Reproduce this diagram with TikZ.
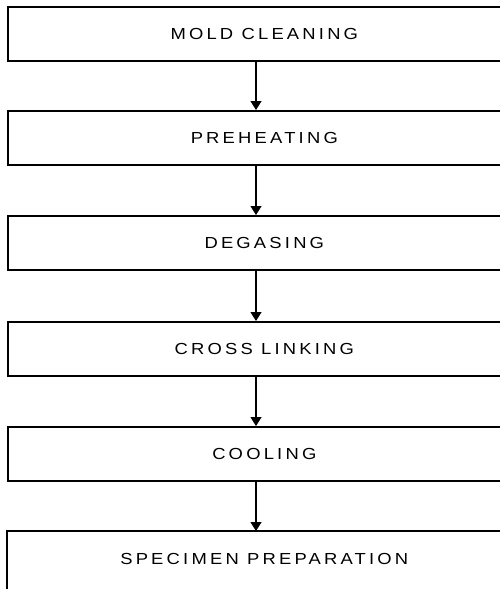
\documentclass[tikz,border=0pt]{standalone}
\usepackage{fontspec}
\setmainfont{Liberation Sans}[LetterSpace=20, FakeStretch=1.15]
\usetikzlibrary{arrows.meta}
\tikzset{
  boxline/.style={line width=1.6pt, line cap=rect},
  stepbox/.style={boxline, draw, rectangle, minimum width=513pt, minimum height=54pt,
    inner sep=0pt, anchor=north west, text=black, font=\fontsize{16pt}{18pt}\selectfont},
  flow/.style={line width=1.2pt, -{Triangle[length=9pt,width=11pt]}}
}
\begin{document}
\begin{tikzpicture}[x=1pt,y=1pt]
  \useasboundingbox (0,0) rectangle (500,-589);
  \clip (0,0) rectangle (500,-589);
  \node[stepbox] (b1) at (7,-6)   {MOLD CLEANING};
  \node[stepbox] (b2) at (7,-110) {PREHEATING};
  \node[stepbox] (b3) at (7,-215) {DEGASING};
  \node[stepbox] (b4) at (7,-321) {CROSS LINKING};
  \node[stepbox] (b5) at (7,-426) {COOLING};
  \node[stepbox, draw=none] (b6) at (7,-531) {SPECIMEN PREPARATION};
  % last box runs off the bottom of the page
  \draw[boxline] ([yshift=-30pt]b6.south west) -- (b6.north west) -- (b6.north east);
  \coordinate (ax) at (256,0);
  \draw[flow] (b1.south -| ax) -- (b2.north -| ax);
  \draw[flow] (b2.south -| ax) -- (b3.north -| ax);
  \draw[flow] (b3.south -| ax) -- (b4.north -| ax);
  \draw[flow] (b4.south -| ax) -- (b5.north -| ax);
  \draw[flow] (b5.south -| ax) -- (b6.north -| ax);
\end{tikzpicture}
\end{document}
